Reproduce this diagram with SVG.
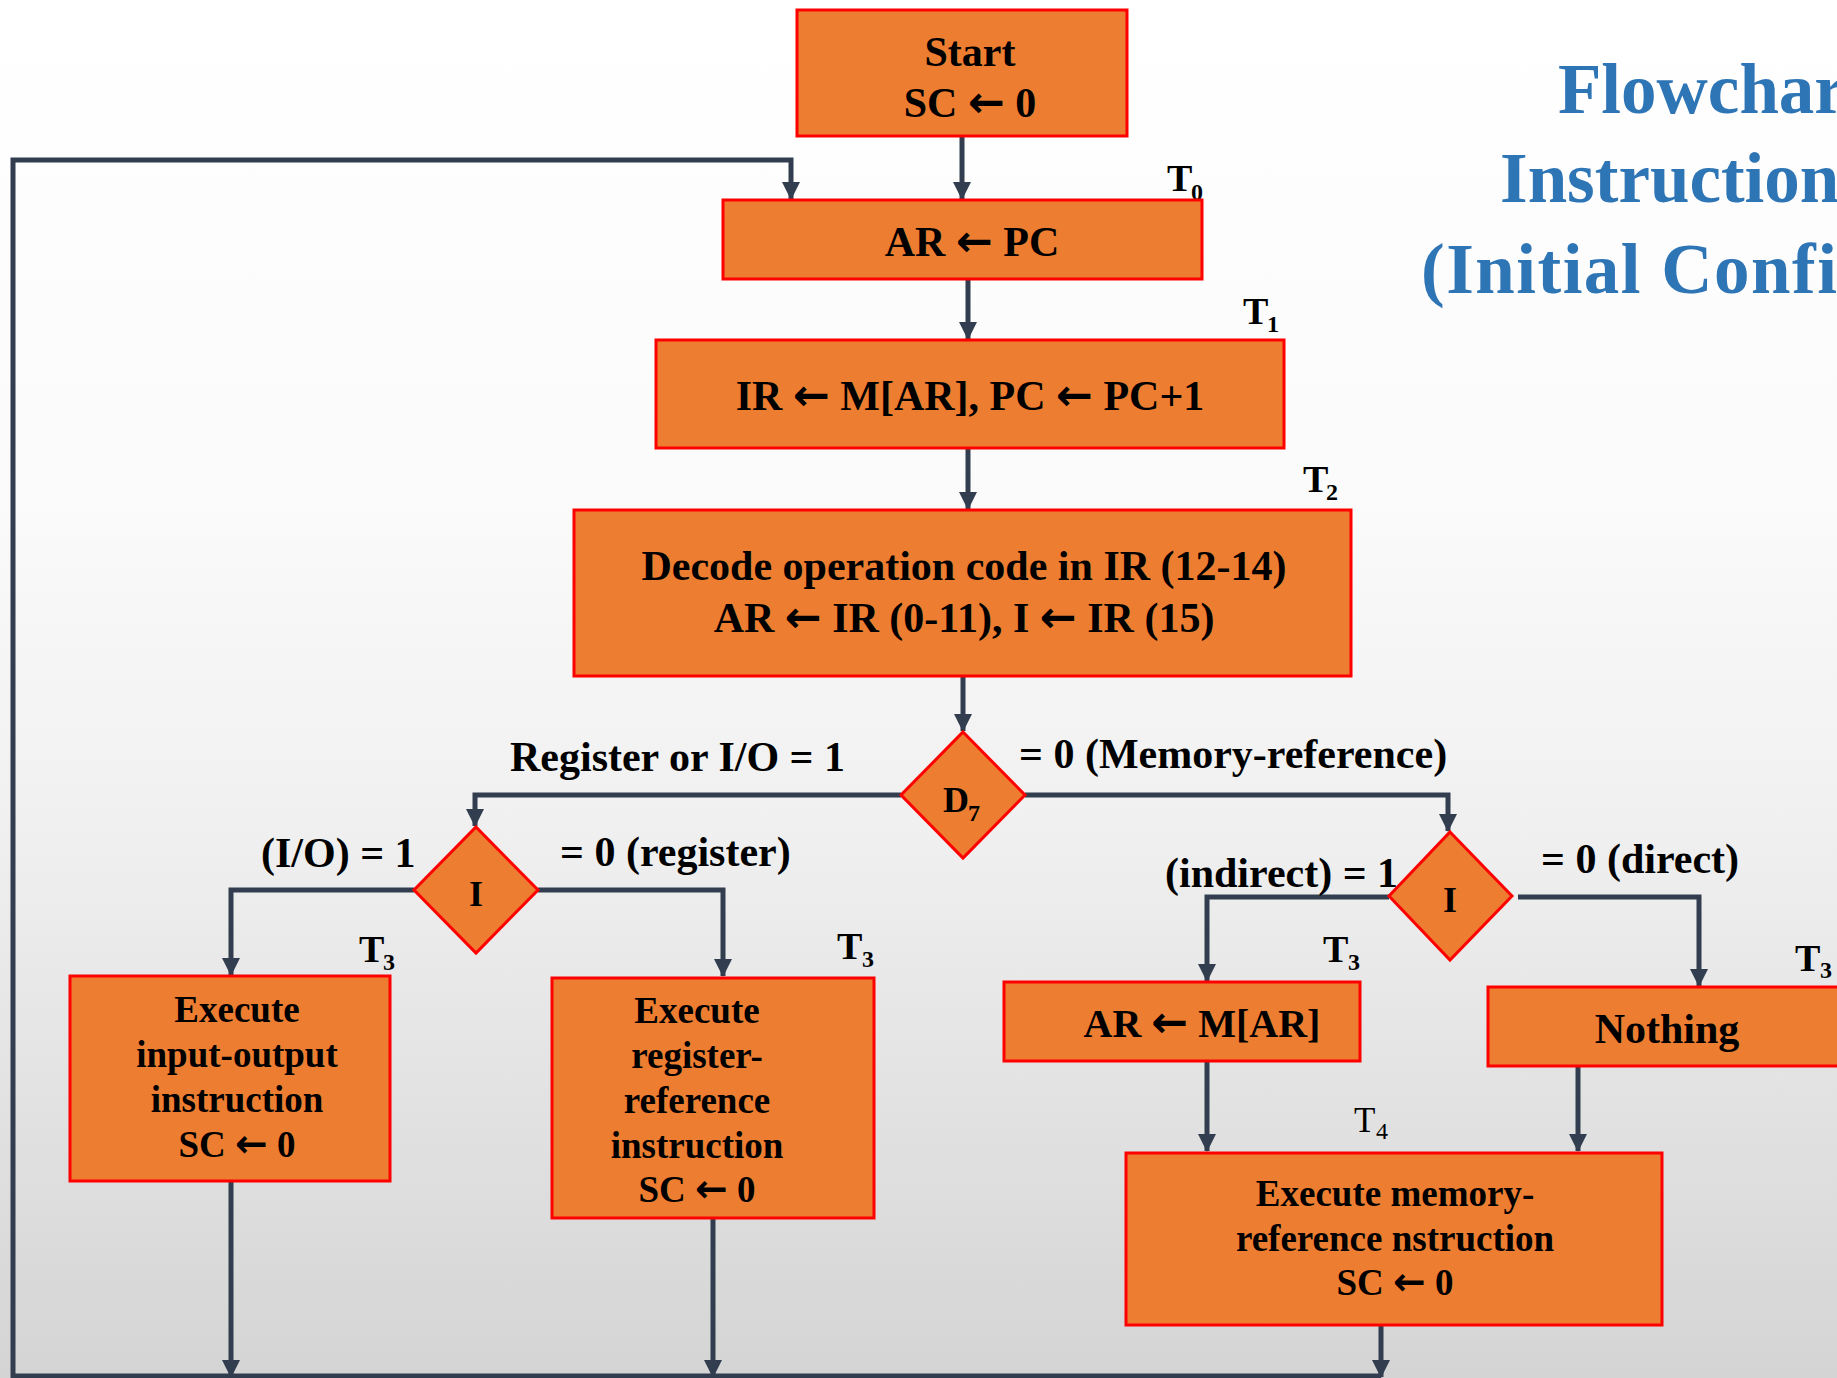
<svg xmlns="http://www.w3.org/2000/svg" width="1837" height="1378" viewBox="0 0 1837 1378">
  <defs>
    <linearGradient id="bg" x1="0" y1="0" x2="0" y2="1">
      <stop offset="0" stop-color="#FFFFFF"/>
      <stop offset="0.35" stop-color="#FBFBFB"/>
      <stop offset="0.6" stop-color="#F0F0F0"/>
      <stop offset="1" stop-color="#D4D4D4"/>
    </linearGradient>
    <marker id="arr" markerUnits="userSpaceOnUse" markerWidth="18" markerHeight="18" viewBox="0 0 18 18" refX="17" refY="9" orient="auto">
      <path d="M0,0 L18,9 L0,18 Z" fill="#323E4F"/>
    </marker>
  </defs>
  <style>
    .box { fill: #ED7D31; stroke: #FF0000; stroke-width: 3; }
    .t { font-family: "Liberation Serif", "Times New Roman", serif; font-weight: bold; font-size: 42px; fill: #000; }
    .s { font-size: 37px; }
    .m { font-size: 40px; }
    .c { text-anchor: middle; }
    .ar { font-family: "DejaVu Sans", sans-serif; font-weight: bold; font-size: 44px; }
    .s .ar { font-size: 39px; }
    .dt { font-family: "Liberation Serif", "Times New Roman", serif; font-weight: bold; font-size: 36px; fill: #000; }
    .tl { font-family: "Liberation Serif", "Times New Roman", serif; font-weight: bold; font-size: 38px; fill: #000; }
    .tr { font-family: "Liberation Serif", "Times New Roman", serif; font-weight: normal; font-size: 35px; fill: #000; }
    .sub { font-size: 24px; }
    .title { font-family: "Liberation Serif", "Times New Roman", serif; font-weight: bold; font-size: 71px; fill: #2E75B6; }
    .wire { fill: none; stroke: #323E4F; stroke-width: 5; }
  </style>

  <rect width="1837" height="1378" fill="url(#bg)"/>

  <!-- Title -->
  <g id="title">
    <text class="title" x="1558" y="113">Flowchart</text>
    <text class="title" x="1500" y="202">Instruction</text>
    <text class="title" x="1421" y="293" letter-spacing="1.5">(Initial Configuration)</text>
  </g>

  <!-- Connectors -->
  <g id="connectors">
    <path class="wire" d="M962,136 V199" marker-end="url(#arr)"/>
    <path class="wire" d="M1381,1376 H13 V160 H791 V199" marker-end="url(#arr)"/>
    <path class="wire" d="M968,279 V339" marker-end="url(#arr)"/>
    <path class="wire" d="M968,448 V509" marker-end="url(#arr)"/>
    <path class="wire" d="M963,676 V731" marker-end="url(#arr)"/>
    <path class="wire" d="M901,795 H475 V826" marker-end="url(#arr)"/>
    <path class="wire" d="M414,890 H231 V975" marker-end="url(#arr)"/>
    <path class="wire" d="M538,890 H723 V976" marker-end="url(#arr)"/>
    <path class="wire" d="M231,1181 V1377" marker-end="url(#arr)"/>
    <path class="wire" d="M713,1218 V1377" marker-end="url(#arr)"/>
    <path class="wire" d="M1025,795 H1448 V831" marker-end="url(#arr)"/>
    <path class="wire" d="M1389,897 H1207 V981" marker-end="url(#arr)"/>
    <path class="wire" d="M1518,897 H1699 V986" marker-end="url(#arr)"/>
    <path class="wire" d="M1207,1061 V1151" marker-end="url(#arr)"/>
    <path class="wire" d="M1578,1066 V1151" marker-end="url(#arr)"/>
    <path class="wire" d="M1381,1325 V1377" marker-end="url(#arr)"/>
  </g>

  <!-- Branch labels -->
  <g id="labels">
    <text class="t" x="510" y="771">Register or I/O = 1</text>
    <text class="t" x="1019" y="768">= 0 (Memory-reference)</text>
    <text class="t" x="261" y="867">(I/O) = 1</text>
    <text class="t" x="560" y="866">= 0 (register)</text>
    <text class="t" x="1165" y="887">(indirect) = 1</text>
    <text class="t" x="1541" y="873">= 0 (direct)</text>
  </g>

  <!-- Timing labels -->
  <g id="timing">
    <text class="tl" x="1167" y="191">T<tspan class="sub" x="1191" y="200">0</tspan></text>
    <text class="tl" x="1243" y="324">T<tspan class="sub" x="1267" y="332">1</tspan></text>
    <text class="tl" x="1303" y="492">T<tspan class="sub" x="1326" y="500">2</tspan></text>
    <text class="tl" x="359" y="962">T<tspan class="sub" x="383" y="970">3</tspan></text>
    <text class="tl" x="837" y="959">T<tspan class="sub" x="862" y="967">3</tspan></text>
    <text class="tl" x="1323" y="962">T<tspan class="sub" x="1348" y="970">3</tspan></text>
    <text class="tl" x="1795" y="971">T<tspan class="sub" x="1820" y="978">3</tspan></text>
    <text class="tr" x="1354" y="1132">T<tspan class="sub" x="1376" y="1139">4</tspan></text>
  </g>

  <!-- Nodes -->
  <g id="start">
    <rect class="box" x="797" y="10" width="330" height="126"/>
    <text class="t c" x="970" y="66">Start</text>
    <text class="t c" x="970" y="117">SC <tspan class="ar">←</tspan> 0</text>
  </g>

  <g id="ar-pc">
    <rect class="box" x="723" y="200" width="479" height="79"/>
    <text class="t c" x="972" y="256">AR <tspan class="ar">←</tspan> PC</text>
  </g>

  <g id="fetch">
    <rect class="box" x="656" y="340" width="628" height="108"/>
    <text class="t c" x="970" y="410">IR <tspan class="ar">←</tspan> M[AR], PC <tspan class="ar">←</tspan> PC+1</text>
  </g>

  <g id="decode">
    <rect class="box" x="574" y="510" width="777" height="166"/>
    <text class="t c" x="964" y="580">Decode operation code in IR (12-14)</text>
    <text class="t c" x="964" y="632">AR <tspan class="ar">←</tspan> IR (0-11), I <tspan class="ar">←</tspan> IR (15)</text>
  </g>

  <g id="d7">
    <polygon class="box" points="963,732 1025,795 963,858 901,795"/>
    <text class="dt" x="943" y="812">D<tspan class="sub" x="968" y="821">7</tspan></text>
  </g>

  <g id="i-left">
    <polygon class="box" points="476,827 538,890 476,953 414,890"/>
    <text class="dt c" x="476" y="906">I</text>
  </g>

  <g id="i-right">
    <polygon class="box" points="1450,832 1512,896 1450,960 1389,896"/>
    <text class="dt c" x="1450" y="912">I</text>
  </g>

  <g id="exec-io">
    <rect class="box" x="70" y="976" width="320" height="205"/>
    <text class="t s c" x="237" y="1022">Execute</text>
    <text class="t s c" x="237" y="1067">input-output</text>
    <text class="t s c" x="237" y="1112">instruction</text>
    <text class="t s c" x="237" y="1157">SC <tspan class="ar">←</tspan> 0</text>
  </g>

  <g id="exec-reg">
    <rect class="box" x="552" y="978" width="322" height="240"/>
    <text class="t s c" x="697" y="1023">Execute</text>
    <text class="t s c" x="697" y="1068">register-</text>
    <text class="t s c" x="697" y="1113">reference</text>
    <text class="t s c" x="697" y="1158">instruction</text>
    <text class="t s c" x="697" y="1202">SC <tspan class="ar">←</tspan> 0</text>
  </g>

  <g id="ar-mar">
    <rect class="box" x="1004" y="982" width="356" height="79"/>
    <text class="t m c" x="1202" y="1037">AR <tspan class="ar">←</tspan> M[AR]</text>
  </g>

  <g id="nothing">
    <rect class="box" x="1488" y="987" width="360" height="79"/>
    <text class="t c" x="1667" y="1043">Nothing</text>
  </g>

  <g id="exec-mem">
    <rect class="box" x="1126" y="1153" width="536" height="172"/>
    <text class="t s c" x="1395" y="1206">Execute memory-</text>
    <text class="t s c" x="1395" y="1251">reference nstruction</text>
    <text class="t s c" x="1395" y="1295">SC <tspan class="ar">←</tspan> 0</text>
  </g>
</svg>
